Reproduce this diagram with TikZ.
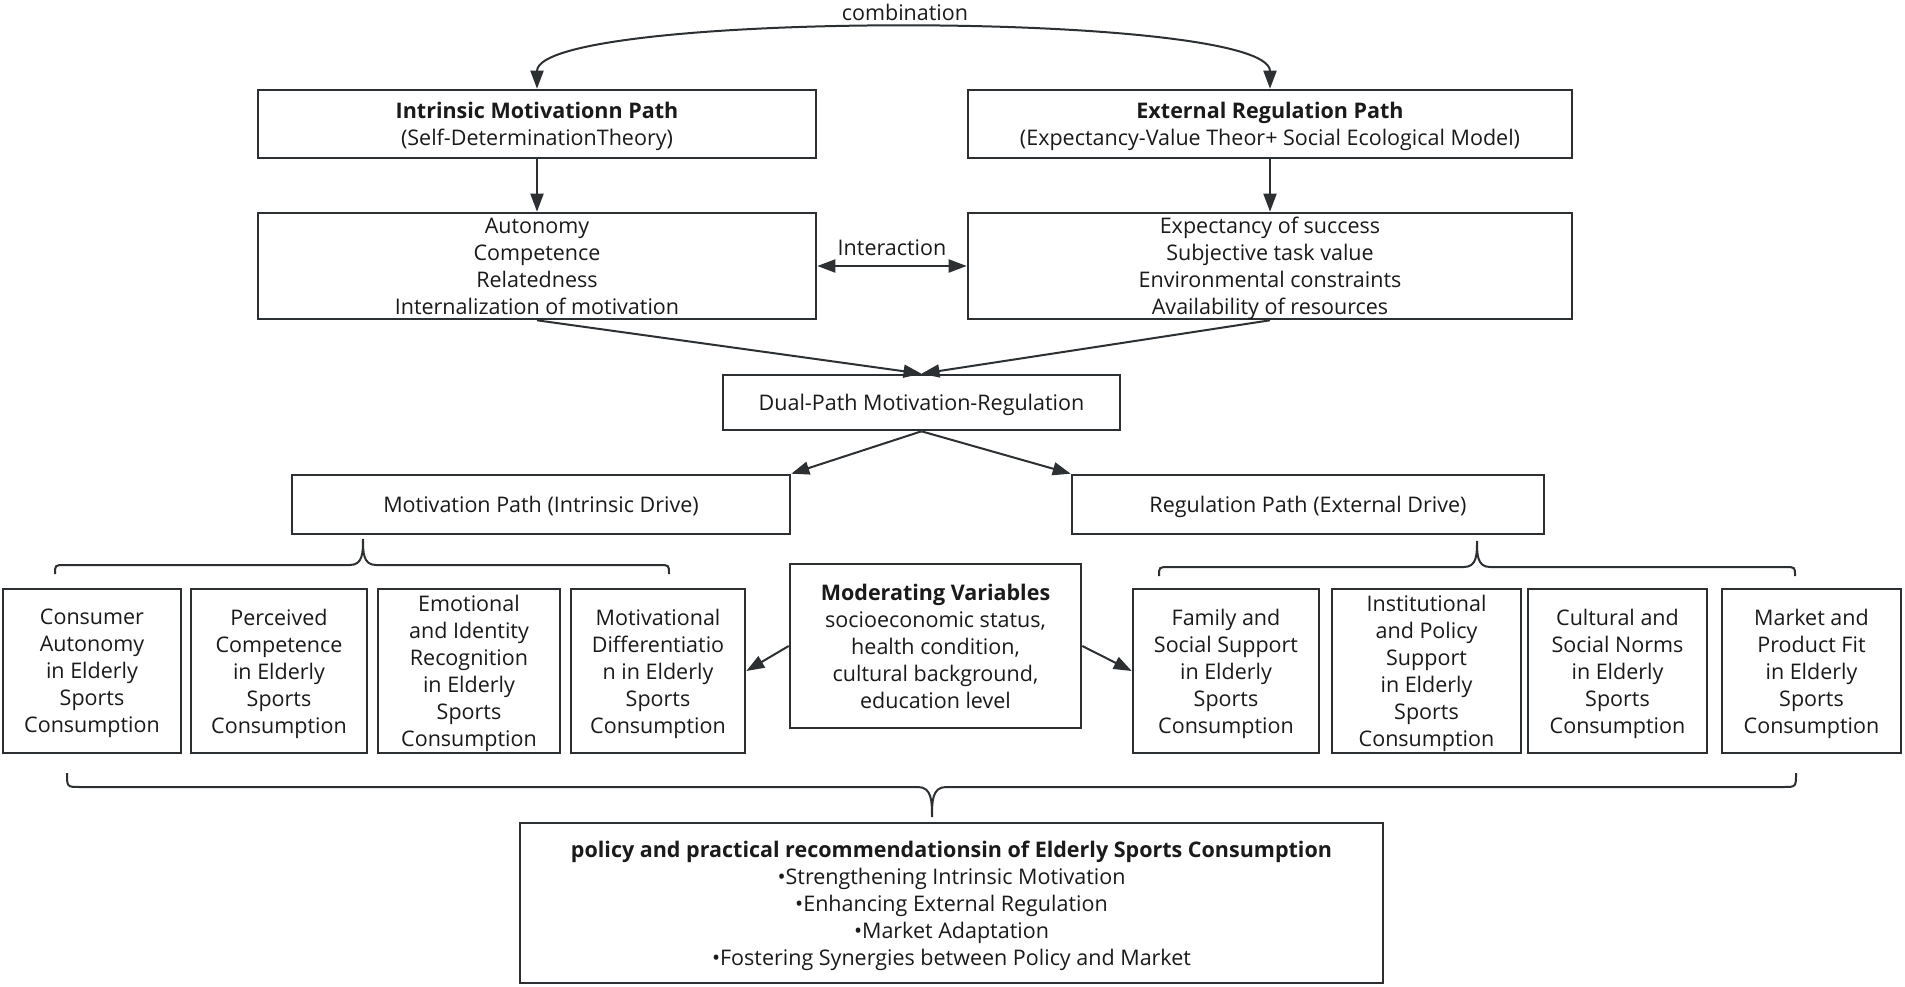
\documentclass[tikz,border=0pt]{standalone}
\usepackage{fontspec}
\setmainfont{Open Sans}
\usetikzlibrary{arrows.meta}
\definecolor{linec}{HTML}{2D3033}
\definecolor{txtc}{HTML}{1A1A1A}
\tikzset{
  box/.style={draw=linec, line width=2.6pt, inner sep=0pt, align=center, text=txtc,
    text depth=0pt, font=\fontsize{21.5}{27}\selectfont},
  arr/.style={draw=linec, line width=2pt, -{Triangle[length=18pt,width=13pt]}},
  darr/.style={draw=linec, line width=2pt, {Triangle[length=18pt,width=13pt]}-{Triangle[length=18pt,width=13pt]}},
  brc/.style={draw=linec, line width=2pt},
  lbl/.style={text=txtc, inner sep=0pt, font=\fontsize{21.5}{27}\selectfont},
}
\begin{document}
\begin{tikzpicture}[x=1pt,y=-1pt]
\useasboundingbox[fill=white] (0,0) rectangle (1905,987);

% top row
\node[box, minimum width=558pt, minimum height=68pt] (intr) at (537,124)
  {\textbf{Intrinsic Motivationn Path}\\(Self-DeterminationTheory)};
\node[box, minimum width=604pt, minimum height=68pt] (extr) at (1270,124)
  {\textbf{External Regulation Path}\\(Expectancy-Value Theor+ Social Ecological Model)};

\node[box, minimum width=558pt, minimum height=106pt] (auto) at (537,266)
  {Autonomy\\Competence\\Relatedness\\Internalization of motivation};
\node[box, minimum width=604pt, minimum height=106pt] (expc) at (1270,266)
  {Expectancy of success\\Subjective task value\\Environmental constraints\\Availability of resources};

\node[lbl] (comb) at (905,12) {combination};
\node[lbl] (inter) at (892,248) {Interaction};

\node[box, minimum width=397pt, minimum height=55pt] (dual) at (921.5,402.5)
  {Dual-Path Motivation-Regulation};

\node[box, minimum width=498pt, minimum height=59pt] (motp) at (541,504.5)
  {Motivation Path (Intrinsic Drive)};
\node[box, minimum width=472pt, minimum height=59pt] (regp) at (1308,504.5)
  {Regulation Path (External Drive)};

% bottom row
\node[box, minimum width=178pt, minimum height=164pt] (b1) at (92,671)
  {Consumer\\Autonomy\\in Elderly\\Sports\\Consumption};
\node[box, minimum width=176pt, minimum height=164pt] (b2) at (279,671)
  {Perceived\\Competence\\in Elderly\\Sports\\Consumption};
\node[box, minimum width=182pt, minimum height=164pt] (b3) at (469,671)
  {Emotional\\and Identity\\Recognition\\in Elderly\\Sports\\Consumption};
\node[box, minimum width=174pt, minimum height=164pt] (b4) at (658,671)
  {Motivational\\Differentiatio\\n in Elderly\\Sports\\Consumption};
\node[box, minimum width=291pt, minimum height=164pt] (mod) at (935.5,646)
  {\textbf{Moderating Variables}\\socioeconomic status,\\health condition,\\cultural background,\\education level};
\node[box, minimum width=186pt, minimum height=164pt] (b5) at (1226,671)
  {Family and\\Social Support\\in Elderly\\Sports\\Consumption};
\node[box, minimum width=189pt, minimum height=164pt] (b6) at (1426.5,671)
  {Institutional\\and Policy\\Support\\in Elderly\\Sports\\Consumption};
\node[box, minimum width=179pt, minimum height=164pt] (b7) at (1617.5,671)
  {Cultural and\\Social Norms\\in Elderly\\Sports\\Consumption};
\node[box, minimum width=179pt, minimum height=164pt] (b8) at (1811.5,671)
  {Market and\\Product Fit\\in Elderly\\Sports\\Consumption};

\node[box, minimum width=863pt, minimum height=160pt] (pol) at (951.5,903)
  {\textbf{policy and practical recommendationsin of Elderly Sports Consumption}\\%
   •Strengthening Intrinsic Motivation\\•Enhancing External Regulation\\%
   •Market Adaptation\\•Fostering Synergies between Policy and Market};

% connectors
\draw[darr] (intr.north) .. controls (537,10) and (1270,10) .. (extr.north);
\draw[arr] (intr.south) -- (auto.north);
\draw[arr] (extr.south) -- (expc.north);
\draw[darr] (auto.east) -- (expc.west);
\draw[arr] (auto.south) -- (dual.north);
\draw[arr] (expc.south) -- (dual.north);
\draw[arr] (dual.south) -- (motp.north east);
\draw[arr] (dual.south) -- (regp.north west);
\draw[arr] (mod.west) -- (b4.east);
\draw[arr] (mod.east) -- (b5.west);

% braces
\draw[brc] (55,574) .. controls (55,565) .. (65,565) -- (350,565)
  .. controls (363,565) and (363,552) .. (363,539)
  .. controls (363,552) and (363,565) .. (376,565) -- (659,565)
  .. controls (669,565) .. (669,574);
\draw[brc] (1159,576) .. controls (1159,567) .. (1169,567) -- (1464,567)
  .. controls (1477,567) and (1477,554) .. (1477,541)
  .. controls (1477,554) and (1477,567) .. (1490,567) -- (1785,567)
  .. controls (1795,567) .. (1795,576);
\draw[brc] (67,773) .. controls (67,787) .. (80,787) -- (918,787)
  .. controls (932,787) and (932,802) .. (932,817)
  .. controls (932,802) and (932,787) .. (946,787) -- (1783,787)
  .. controls (1796,787) .. (1796,773);
\end{tikzpicture}
\end{document}
